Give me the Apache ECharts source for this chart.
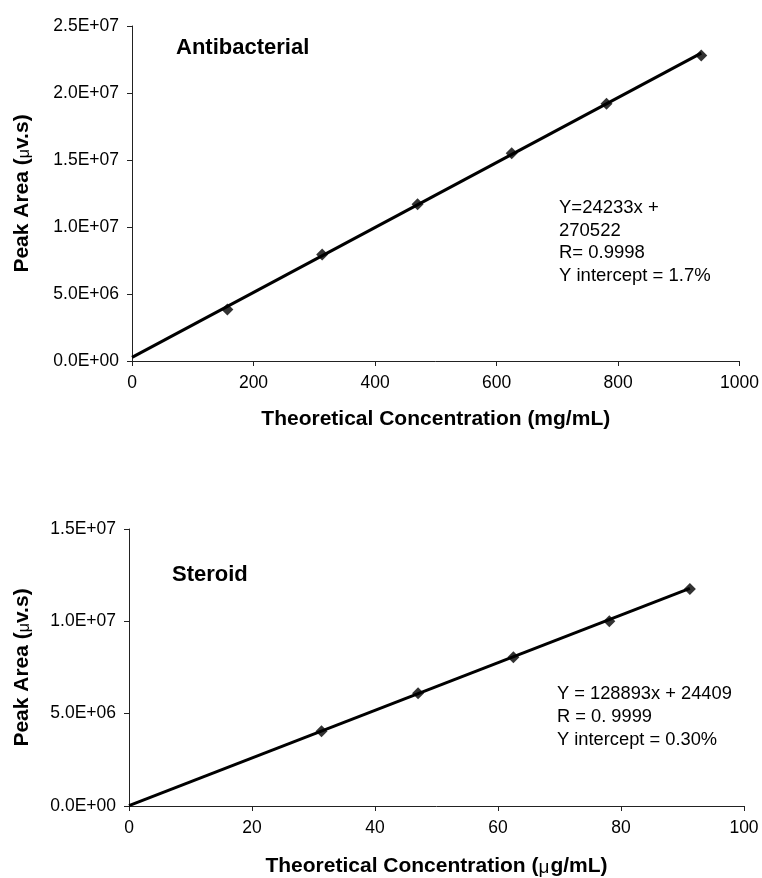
<!DOCTYPE html>
<html>
<head>
<meta charset="utf-8">
<script src="https://cdn.jsdelivr.net/npm/echarts@6/dist/echarts.min.js"></script>
<style>
  html, body { margin: 0; padding: 0; background: #fff; }
  #chart { width: 762px; height: 878px; }
</style>
</head>
<body>
<div id="chart"></div>
<script>
// Antibacterial calibration (mg/mL vs peak area)
const antiConc = [157, 313, 470, 625, 781, 937]
const antiArea = [3.85e6, 7.95e6, 11.7e6, 15.5e6, 19.2e6, 22.8e6]
const antiSlope = 24233
const antiIntercept = 270522
const antiNotes = ['Y=24233x +', '270522', 'R= 0.9998', 'Y intercept = 1.7%']

// Steroid calibration (µg/mL vs peak area)
const sterConc = [31.3, 47.0, 62.5, 78.1, 91.2]
const sterArea = [4.05e6, 6.1e6, 8.05e6, 10.0e6, 11.75e6]
const sterSlope = 128893
const sterIntercept = 24409
const sterNotes = ['Y = 128893x + 24409', 'R = 0. 9999', 'Y intercept = 0.30%']

const FONT = 'Arial, "Liberation Sans", sans-serif'

/**
 * 2.5E+07 style labels
 */
const sci = (v) => {
  if (v === 0) return '0.0E+00'
  const e = Math.floor(Math.log10(v) + 1e-9)
  const m = v / Math.pow(10, e)
  return m.toFixed(1) + 'E+' + String(e).padStart(2, '0')
}

const fitLine = (xs, slope, b) => {
  const xmax = Math.max(...xs)
  return [[0, b], [xmax, slope * xmax + b]]
}

const labelStyle = { color: '#000', fontSize: 17.5, fontFamily: FONT, margin: 13 }

const axisBase = {
  axisLine: { lineStyle: { color: '#222', width: 1 } },
  axisTick: { show: true, length: 5, inside: false, lineStyle: { color: '#222' } },
  splitLine: { show: false }
}

const nameStyle = {
  color: '#000', fontSize: 21, fontWeight: 'bold', fontFamily: FONT,
  rich: {
    mu: { fontSize: 16, fontWeight: 'normal', fontFamily: FONT, color: '#000', padding: [6, 0, 0, 0] },
    mux: { fontSize: 19, fontWeight: 'normal', fontFamily: FONT, color: '#000', padding: [3, 1, 0, 0] }
  }
}

const chart = echarts.init(document.getElementById('chart'))

const option = {
  backgroundColor: '#fff',
  animation: false,
  title: [
    { text: 'Antibacterial', left: 176, top: 37, padding: 0,
      textStyle: { fontSize: 22, fontWeight: 'bold', fontFamily: FONT, color: '#000' } },
    { text: 'Steroid', left: 172, top: 564, padding: 0,
      textStyle: { fontSize: 22, fontWeight: 'bold', fontFamily: FONT, color: '#000' } },
    { text: antiNotes.join('\n'), left: 559, top: 197, padding: 0,
      textStyle: { fontSize: 18.5, fontWeight: 'normal', fontFamily: FONT, color: '#000', lineHeight: 22.5 } },
    { text: sterNotes.join('\n'), left: 557, top: 682, padding: 0,
      textStyle: { fontSize: 18.3, fontWeight: 'normal', fontFamily: FONT, color: '#000', lineHeight: 23 } }
  ],
  grid: [
    { left: 132, top: 26, width: 608, height: 335 },
    { left: 129, top: 529, width: 615, height: 278 }
  ],
  xAxis: [
    {
      ...axisBase, gridIndex: 0, type: 'value', min: 0, max: 1000, interval: 200,
      axisLabel: { ...labelStyle, formatter: (v) => String(v) },
      name: 'Theoretical Concentration (mg/mL)', nameLocation: 'middle', nameGap: 48,
      nameTextStyle: nameStyle
    },
    {
      ...axisBase, gridIndex: 1, type: 'value', min: 0, max: 100, interval: 20,
      axisLabel: { ...labelStyle, formatter: (v) => String(v) },
      name: 'Theoretical Concentration ({mux|μ}g/mL)', nameLocation: 'middle', nameGap: 49,
      nameTextStyle: nameStyle
    }
  ],
  yAxis: [
    {
      ...axisBase, gridIndex: 0, type: 'value', min: 0, max: 2.5e7, interval: 5e6,
      axisLabel: { ...labelStyle, formatter: sci },
      name: 'Peak Area ({mu|μ}v.s)', nameLocation: 'middle', nameGap: 99,
      nameTextStyle: nameStyle
    },
    {
      ...axisBase, gridIndex: 1, type: 'value', min: 0, max: 1.5e7, interval: 5e6,
      axisLabel: { ...labelStyle, formatter: sci },
      name: 'Peak Area ({mu|μ}v.s)', nameLocation: 'middle', nameGap: 96,
      nameTextStyle: nameStyle
    }
  ],
  series: [
    {
      type: 'line', xAxisIndex: 0, yAxisIndex: 0,
      data: fitLine(antiConc, antiSlope, antiIntercept),
      showSymbol: false, lineStyle: { color: '#000', width: 3 }
    },
    {
      type: 'scatter', xAxisIndex: 0, yAxisIndex: 0,
      data: antiConc.map((x, i) => [x, antiArea[i]]),
      symbol: 'diamond', symbolSize: 12, itemStyle: { color: '#000' }
    },
    {
      type: 'line', xAxisIndex: 1, yAxisIndex: 1,
      data: fitLine(sterConc, sterSlope, sterIntercept),
      showSymbol: false, lineStyle: { color: '#000', width: 3 }
    },
    {
      type: 'scatter', xAxisIndex: 1, yAxisIndex: 1,
      data: sterConc.map((x, i) => [x, sterArea[i]]),
      symbol: 'diamond', symbolSize: 12, itemStyle: { color: '#000' }
    }
  ]
}

chart.setOption(option)
</script>
</body>
</html>
